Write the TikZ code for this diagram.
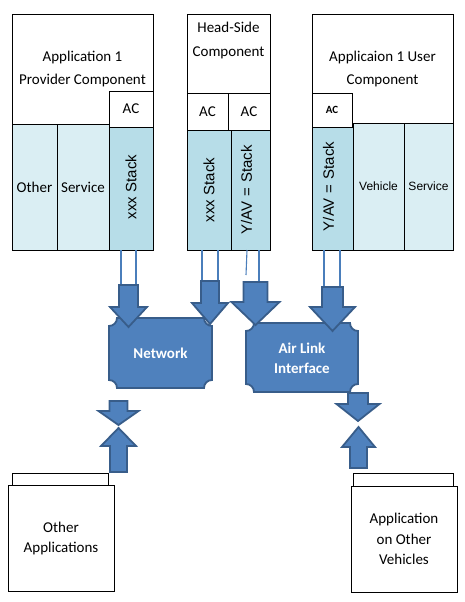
\documentclass[tikz,border=0pt]{standalone}
\usepackage{fontspec}
\setmainfont{Carlito}
\newfontfamily\arialfont{Liberation Sans}
\usetikzlibrary{positioning}
\definecolor{stackLt}{HTML}{DAEEF3}
\definecolor{stackDk}{HTML}{B7DDE8}
\definecolor{blkFill}{HTML}{4F81BD}
\definecolor{blkLine}{HTML}{385D8A}
\definecolor{wireCol}{HTML}{4A7EBB}

% block arrow: centre x, shaft half, head half, tail y, head base y, tip y
\newcommand{\blkarrow}[6]{%
  \draw[blk] (#1-#2,#4) -- (#1+#2,#4) -- (#1+#2,#5) -- (#1+#3,#5) -- (#1,#6)
    -- (#1-#3,#5) -- (#1-#2,#5) -- cycle;}
% plaque with hollow corners: x1 y1 x2 y2 r
\newcommand{\plaque}[5]{%
  \draw[blk] (#1+#5,#2) -- (#3-#5,#2) arc[start angle=180, end angle=90, radius=#5]
    -- (#3,#4-#5) arc[start angle=270, end angle=180, radius=#5]
    -- (#1+#5,#4) arc[start angle=360, end angle=270, radius=#5]
    -- (#1,#2+#5) arc[start angle=90, end angle=0, radius=#5] -- cycle;}

\begin{document}
\begin{tikzpicture}[x=1pt, y=-1pt,
    box/.style={rectangle, draw, line width=1pt, outer sep=0pt, inner sep=0pt,
                align=center, font=\fontsize{15}{23}\selectfont},
    col/.style={box, fill=stackLt},
    stk/.style={box, fill=stackDk},
    acbox/.style={box, fill=white},
    stktxt/.style={rotate=90, inner sep=0pt, font=\arialfont\fontsize{15}{17}\selectfont},
    blk/.style={draw=blkLine, fill=blkFill, line width=1.8pt},
    blktxt/.style={text=white, align=center, font=\bfseries\fontsize{15}{20}\selectfont},
    wire/.style={draw=wireCol, line width=1.1pt}
  ]
  \useasboundingbox (0,0) rectangle (465,602);

  % provider component
  \node[box, minimum width=141pt, minimum height=109pt] (prov) at (82.5,69.5) {Application 1\\Provider Component};
  \node[col, minimum width=45pt, minimum height=126pt, below right=0pt of prov.south west] (pother) {Other};
  \node[col, minimum width=52pt, minimum height=126pt, right=0pt of pother] (psvc) {Service};
  \node[stk, minimum width=44pt, minimum height=126pt, right=0pt of psvc,
        label={[stktxt]center:{xxx Stack}}] (pstk) {};
  \node[acbox, minimum width=44pt, minimum height=36pt] (pac) at (131,109) {AC};

  % head-side component
  \node[box, minimum width=83pt, minimum height=78pt] (head) at (228.5,54) {};
  \node[inner sep=0pt, align=center, font=\fontsize{15}{24}\selectfont, below=7pt of head.north] (headtxt) {Head-Side\\Component};
  \node[acbox, minimum width=41pt, minimum height=37pt, below right=0pt of head.south west] (hac1) {AC};
  \node[acbox, minimum width=42pt, minimum height=37pt, right=0pt of hac1] (hac2) {AC};
  \node[stk, minimum width=44pt, minimum height=120pt, below right=0pt of hac1.south west,
        label={[stktxt]center:{xxx Stack}}] (hxxx) {};
  \node[stk, minimum width=39pt, minimum height=120pt, right=0pt of hxxx,
        label={[stktxt, yshift=4pt]center:{Y/AV\hspace{5pt}=\hspace{5pt}Stack}}] (hyav) {};

  % user component
  \node[box, minimum width=141pt, minimum height=108pt] (user) at (382.5,69) {Applicaion 1 User\\Component};
  \node[stk, minimum width=41pt, minimum height=127pt, below right=0pt of user.south west,
        label={[stktxt, yshift=4pt]center:{Y/AV\hspace{5pt}=\hspace{5pt}Stack}}] (ustk) {};
  \node[col, minimum width=51pt, minimum height=127pt, right=0pt of ustk,
        font=\arialfont\fontsize{12}{14}\selectfont] (uveh) {Vehicle};
  \node[col, minimum width=49pt, minimum height=127pt, right=0pt of uveh,
        font=\arialfont\fontsize{12}{14}\selectfont] (usvc) {Service};
  \node[acbox, minimum width=40pt, minimum height=34pt, font=\bfseries\fontsize{11}{13}\selectfont] (uac) at (332,110) {AC};

  % wires down from the stacks
  \draw[wire] (pstk.south) ++(-10,0) -- ++(0,35);
  \draw[wire] (pstk.south) ++(5,0) -- ++(0,35);
  \draw[wire] (hxxx.south) ++(-7,0) -- ++(0,31);
  \draw[wire] (hxxx.south) ++(9,0) -- ++(0,31);
  \draw[wire] (hyav.south) ++(-3.5,0) -- ++(-1,25);
  \draw[wire] (hyav.south) ++(8.5,0) -- ++(0,32);
  \draw[wire] (ustk.south) ++(-8.5,0) -- ++(0,37);
  \draw[wire] (ustk.south) ++(7.5,0) -- ++(0,37);

  % network and air link
  \plaque{109}{318}{212}{388}{8}
  \plaque{246}{323}{358}{392}{8}
  \node[blktxt] (net) at (160.5,353) {Network};
  \node[blktxt] (air) at (302,358) {Air Link\\Interface};

  \blkarrow{128.5}{9.5}{18.5}{285}{307}{327}
  \blkarrow{210}{9}{18}{281}{303}{324}
  \blkarrow{255.5}{12}{24}{282}{302}{325}
  \blkarrow{332.5}{10.5}{22.5}{287}{307}{331}

  % other applications
  \node[box, minimum width=96pt, minimum height=13pt] (oaback) at (60,479.5) {};
  \node[box, fill=white, minimum width=106pt, minimum height=106pt, font=\fontsize{15}{20}\selectfont] (oa) at (61,538) {Other\\Applications};
  \blkarrow{118.5}{9}{20}{401}{411}{425}
  \blkarrow{118.5}{8.5}{17.5}{472}{446}{428}

  % other vehicles
  \node[box, minimum width=100pt, minimum height=13pt] (ovback) at (403,479.5) {};
  \node[box, fill=white, minimum width=106pt, minimum height=106pt, font=\fontsize{15}{20.5}\selectfont] (ov) at (404,539) {Application\\on Other\\Vehicles};
  \blkarrow{358}{10}{21.5}{393}{404}{421}
  \blkarrow{358.5}{8.5}{16.5}{468}{447}{427}
\end{tikzpicture}
\end{document}
